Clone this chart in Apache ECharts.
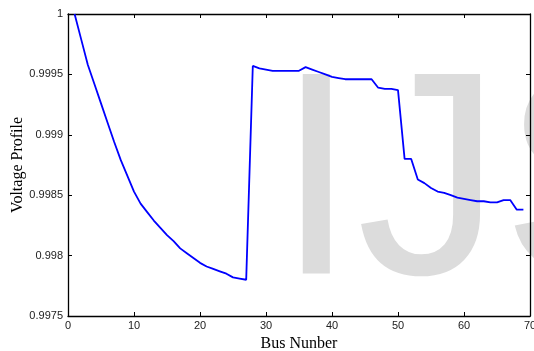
<!DOCTYPE html>
<html>
<head>
<meta charset="utf-8">
<script src="https://cdn.jsdelivr.net/npm/echarts@6/dist/echarts.min.js"></script>
<style>
html,body{margin:0;padding:0;background:#fff;}
#chart{width:534px;height:351px;}
</style>
</head>
<body>
<div id="chart"></div>
<script>
var busNumbers = [];
for (var i = 1; i <= 69; i++) busNumbers.push(i);

var voltage = [
  1.00000, 0.99979, 0.99958, 0.99942, 0.99926, 0.99910, 0.99894, 0.99879, 0.99866, 0.99853,
  0.99843, 0.99836, 0.99829, 0.99823, 0.99817, 0.99812, 0.99806, 0.99802, 0.99798, 0.99794,
  0.99791, 0.99789, 0.99787, 0.99785, 0.99782, 0.99781, 0.99780, 0.99957, 0.99955, 0.99954,
  0.99953, 0.99953, 0.99953, 0.99953, 0.99953, 0.99956, 0.99954, 0.99952, 0.99950, 0.99948,
  0.99947, 0.99946, 0.99946, 0.99946, 0.99946, 0.99946, 0.99939, 0.99938, 0.99938, 0.99937,
  0.99880, 0.99880, 0.99863, 0.99860, 0.99856, 0.99853, 0.99852, 0.99850, 0.99848, 0.99847,
  0.99846, 0.99845, 0.99845, 0.99844, 0.99844, 0.99846, 0.99846, 0.99838, 0.99838
];

var xTitle = "Bus Nunber";
var yTitle = "Voltage Profile";
var watermark = "IJS";

var points = busNumbers.map(function (b, k) { return [b, voltage[k]]; });

var chart = echarts.init(document.getElementById('chart'), null, {renderer: 'canvas'});

var axisCommon = {
  axisLine: {show: true, onZero: false, lineStyle: {color: '#000', width: 1.3}},
  axisTick: {show: true, inside: true, length: 4, lineStyle: {color: '#000', width: 1}},
  splitLine: {show: false}
};

chart.setOption({
  animation: false,
  backgroundColor: '#fff',
  grid: {left: 68, right: 4, top: 14, bottom: 35, containLabel: false, outerBoundsMode: 'none'},
  graphic: [{
    type: 'text',
    z: -10,
    silent: true,
    style: {
      text: watermark,
      x: 276,
      y: 193.5,
      font: '290px "Liberation Sans", Arial, sans-serif',
      fill: '#dcdcdc',
      verticalAlign: 'middle',
      align: 'left'
    }
  }],
  xAxis: [
    Object.assign({}, axisCommon, {
      type: 'value', position: 'bottom', min: 0, max: 70, interval: 10,
      name: xTitle, nameLocation: 'middle', nameGap: 20,
      nameTextStyle: {fontFamily: '"Liberation Serif", "Times New Roman", serif', fontSize: 16, color: '#000'},
      axisLabel: {color: '#222', fontFamily: '"Liberation Sans", Arial, sans-serif', fontSize: 11, margin: 4}
    }),
    Object.assign({}, axisCommon, {
      type: 'value', position: 'top', min: 0, max: 70, interval: 10,
      axisLabel: {show: false}
    })
  ],
  yAxis: [
    Object.assign({}, axisCommon, {
      type: 'value', position: 'left', min: 0.9975, max: 1, interval: 0.0005,
      name: yTitle, nameLocation: 'middle', nameGap: 42, nameRotate: 90, nameMoveOverlap: false,
      nameTextStyle: {fontFamily: '"Liberation Serif", "Times New Roman", serif', fontSize: 16, color: '#000'},
      axisLabel: {
        color: '#222', fontFamily: '"Liberation Sans", Arial, sans-serif', fontSize: 11, margin: 5,
        formatter: function (v) { return String(+v.toFixed(4)); }
      }
    }),
    Object.assign({}, axisCommon, {
      type: 'value', position: 'right', min: 0.9975, max: 1, interval: 0.0005,
      axisLabel: {show: false}
    })
  ],
  series: [{
    type: 'line',
    xAxisIndex: 0,
    yAxisIndex: 0,
    data: points,
    showSymbol: false,
    symbol: 'none',
    z: 5,
    lineStyle: {color: '#0000ff', width: 1.8},
    clip: false
  }]
});
</script>
</body>
</html>
